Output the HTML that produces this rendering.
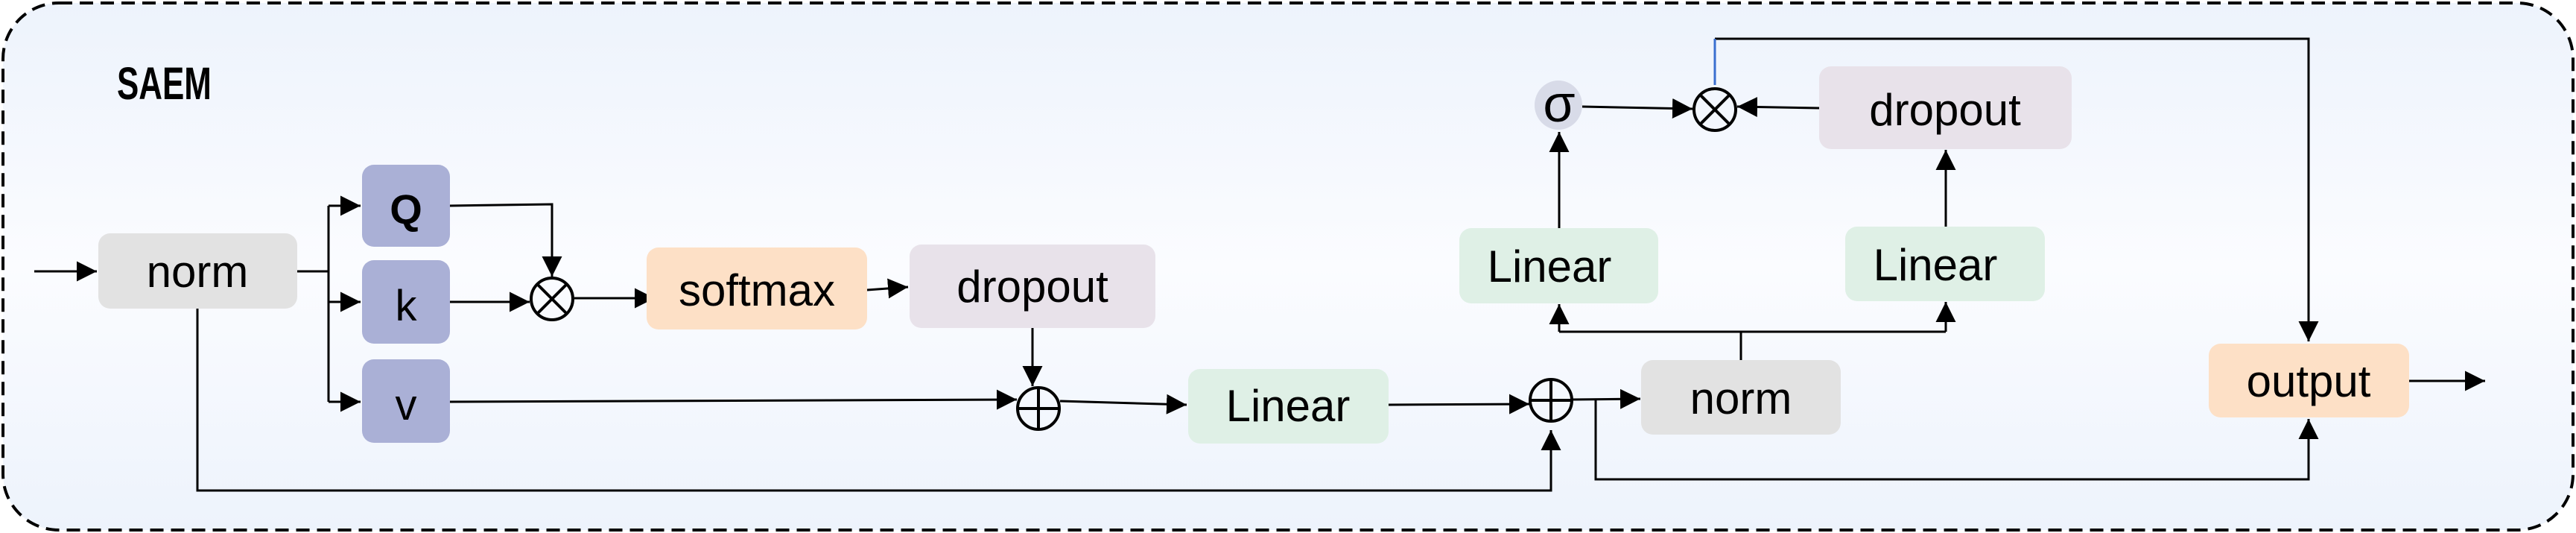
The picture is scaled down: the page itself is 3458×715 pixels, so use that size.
<!DOCTYPE html>
<html><head><meta charset="utf-8"><style>
html,body{margin:0;padding:0;background:#fff;}
svg{display:block;}
text{font-family:"Liberation Sans",sans-serif;}
</style></head><body>
<svg width="3458" height="715" viewBox="0 0 3458 715" xmlns="http://www.w3.org/2000/svg">
<defs>
<linearGradient id="bg" x1="0" y1="0" x2="0" y2="1">
<stop offset="0" stop-color="#edf3fc"/><stop offset="0.5" stop-color="#fbfcff"/><stop offset="1" stop-color="#edf3fc"/>
</linearGradient>
<marker id="a" viewBox="0 0 10 10" refX="10" refY="5" markerWidth="9" markerHeight="9" markerUnits="strokeWidth" orient="auto">
<path d="M0,0 L10,5 L0,10 z" fill="#000"/></marker>
</defs>
<rect x="4" y="4" width="3450" height="707" rx="75" fill="url(#bg)" stroke="#000" stroke-width="4" stroke-dasharray="18 10"/>
<text x="157" y="133" font-size="61" font-weight="bold" transform="translate(157 0) scale(0.72 1) translate(-157 0)">SAEM</text>

<g fill="none" stroke="#000" stroke-width="3">
<line x1="46" y1="364" x2="130" y2="364" marker-end="url(#a)"/>
<polyline points="399,364 441,364"/>
<line x1="441" y1="276" x2="441" y2="539"/>
<line x1="441" y1="276" x2="484" y2="276" marker-end="url(#a)"/>
<line x1="441" y1="405" x2="484" y2="405" marker-end="url(#a)"/>
<line x1="441" y1="539" x2="484" y2="539" marker-end="url(#a)"/>
<polyline points="604,276 741,274 741,371" marker-end="url(#a)"/>
<line x1="604" y1="405" x2="711" y2="405" marker-end="url(#a)"/>
<line x1="771" y1="400" x2="879" y2="400" marker-end="url(#a)"/>
<line x1="1164" y1="389" x2="1219" y2="385" marker-end="url(#a)"/>
<line x1="1386" y1="431" x2="1386" y2="518" marker-end="url(#a)"/>
<line x1="604" y1="539" x2="1365" y2="536" marker-end="url(#a)"/>
<line x1="1423" y1="538" x2="1593" y2="543" marker-end="url(#a)"/>
<line x1="1864" y1="543" x2="2053" y2="542" marker-end="url(#a)"/>
<polyline points="265,414 265,658 2082,658 2082,577" marker-end="url(#a)"/>
<line x1="2110" y1="536" x2="2202" y2="535" marker-end="url(#a)"/>
<polyline points="2142,536 2142,643 3099,643 3099,562" marker-end="url(#a)"/>
<line x1="2337" y1="483" x2="2337" y2="445"/>
<polyline points="2093,445 2612,445"/>
<line x1="2093" y1="445" x2="2093" y2="408" marker-end="url(#a)"/>
<line x1="2612" y1="445" x2="2612" y2="405" marker-end="url(#a)"/>
<line x1="2093" y1="306" x2="2093" y2="177" marker-end="url(#a)"/>
<line x1="2612" y1="304" x2="2612" y2="201" marker-end="url(#a)"/>
<line x1="2124" y1="143" x2="2272" y2="146" marker-end="url(#a)"/>
<line x1="2442" y1="145" x2="2332" y2="143" marker-end="url(#a)"/>
<polyline points="2302,52 3099,52 3099,458" marker-end="url(#a)"/>
<line x1="3234" y1="511" x2="3336" y2="511" marker-end="url(#a)"/>
</g>
<line x1="2302" y1="52" x2="2302" y2="114" stroke="#3a6fd0" stroke-width="3"/>

<g>
<rect x="132" y="313" width="267" height="101" rx="16" fill="#e2e2e2"/>
<rect x="486" y="221" width="118" height="110" rx="16" fill="#aab0d6"/>
<rect x="486" y="349" width="118" height="112" rx="16" fill="#aab0d6"/>
<rect x="486" y="482" width="118" height="112" rx="16" fill="#aab0d6"/>
<rect x="868" y="332" width="296" height="110" rx="16" fill="#fde0c6"/>
<rect x="1221" y="328" width="330" height="112" rx="16" fill="#e8e2ea"/>
<rect x="1595" y="495" width="269" height="100" rx="16" fill="#dff0e6"/>
<rect x="2203" y="483" width="268" height="100" rx="16" fill="#e2e2e2"/>
<rect x="1959" y="306" width="267" height="101" rx="16" fill="#dff0e6"/>
<rect x="2477" y="304" width="268" height="100" rx="16" fill="#dff0e6"/>
<rect x="2442" y="89" width="339" height="111" rx="16" fill="#e8e2ea"/>
<rect x="2965" y="461" width="269" height="99" rx="16" fill="#fde0c6"/>
<ellipse cx="2092" cy="141" rx="32" ry="33" fill="#d8dbe8"/>
</g>

<g fill="none" stroke="#000" stroke-width="4">
<circle cx="741" cy="401" r="28"/>
<line x1="721" y1="381" x2="761" y2="421"/><line x1="761" y1="381" x2="721" y2="421"/>
<circle cx="2302" cy="147" r="28"/>
<line x1="2282" y1="127" x2="2322" y2="167"/><line x1="2322" y1="127" x2="2282" y2="167"/>
<circle cx="1394" cy="548" r="28"/>
<line x1="1366" y1="548" x2="1422" y2="548"/><line x1="1394" y1="520" x2="1394" y2="576"/>
<circle cx="2082" cy="537" r="28"/>
<line x1="2054" y1="537" x2="2110" y2="537"/><line x1="2082" y1="509" x2="2082" y2="565"/>
</g>

<g font-size="60" text-anchor="middle" fill="#000">
<text x="265" y="385">norm</text>
<text x="545" y="300" font-weight="bold" font-size="56">Q</text>
<text x="545" y="430" font-size="58">k</text>
<text x="545" y="563" font-size="58">v</text>
<text x="1016" y="410">softmax</text>
<text x="1386" y="405">dropout</text>
<text x="1729" y="565">Linear</text>
<text x="2337" y="555">norm</text>
<text x="2080" y="378">Linear</text>
<text x="2598" y="376">Linear</text>
<text x="2611" y="168">dropout</text>
<text x="3099" y="532">output</text>
<text x="2093" y="163" font-family="Liberation Serif,serif" font-size="70">σ</text>
</g>
</svg>
</body></html>
